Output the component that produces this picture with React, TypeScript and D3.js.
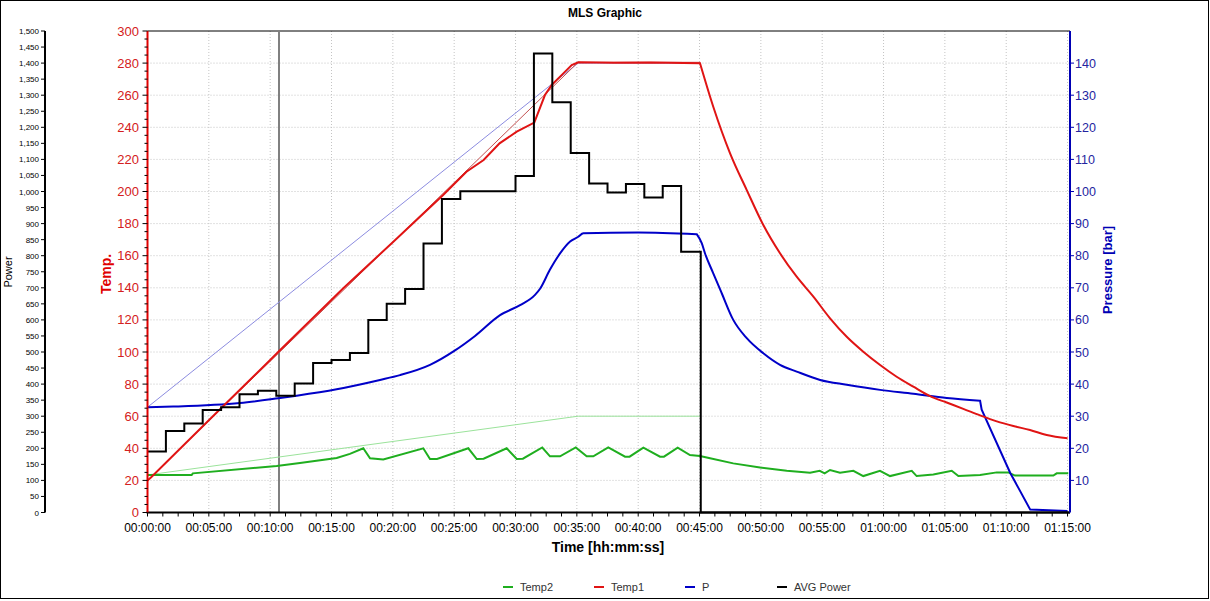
import React from "react";
import * as d3 from "d3";

// ---------- data (minutes, values) ----------
const powerStart = [0, 1.5, 3, 4.5, 6, 7.5, 9, 10.5, 12, 13.5, 15, 16.5, 18, 19.5, 21, 22.5, 24, 25.5, 27, 28.5, 30, 31.5, 33, 34.5, 36, 37.5, 39, 40.5, 42, 43.5, 45.1, 75.2];
const powerValue = [190, 254, 277, 319, 328, 368, 379, 364, 402, 466, 475, 497, 600, 650, 696, 838, 977, 1001, 1001, 1001, 1048, 1430, 1278, 1120, 1025, 997, 1023, 981, 1017, 812, 0, 0];

const temp1RiseTime = [0, 0.3, 5, 10, 10.65, 15.96, 20.04, 24.1, 26.0, 27.4, 28.7, 30.1, 31.53, 32.4, 32.95, 33.9, 34.58, 35.12, 38, 41, 45.04];
const temp1RiseValue = [20, 22, 57.5, 95, 100, 139.7, 168.7, 197.8, 212.3, 219.6, 230, 237.3, 242.9, 260.1, 266.4, 273.6, 278.8, 280.5, 280.2, 280.4, 279.9];
const temp1FallTime = [45.04, 46.12, 47.49, 48.85, 50.2, 51.56, 52.92, 54.28, 55.64, 57, 58.35, 59.72, 61.07, 62.43, 63.79, 65.15, 66.5, 67.87, 69.23, 70.58, 71.94, 73.3, 75.0];
const temp1FallValue = [279.9, 252.8, 223.8, 200.9, 179.1, 161.5, 146.9, 134.5, 121, 109.5, 100.2, 91.9, 84.6, 78.4, 72.5, 68.5, 64.6, 60.5, 56.8, 53.9, 51.4, 48.3, 46.2];

const temp2Time = [0, 3.6, 3.7, 10.53, 12.43, 15.42, 16.5, 17.59, 18.14, 19.22, 22.48, 23.03, 23.6, 26.15, 26.84, 27.4, 29.28, 30.1, 30.6, 32.18, 32.81, 33.63, 34.91, 35.8, 36.34, 37.56, 38.93, 39.3, 40.42, 41.78, 42.1, 43.22, 44.22, 45.04, 45.86, 47.75, 49.93, 52.11, 54.01, 54.8, 55.2, 55.64, 56.45, 57.54, 58.35, 59.71, 60.53, 62.3, 62.7, 64.06, 65.56, 66.1, 67.87, 69.23, 70.17, 70.72, 73.84, 74.12, 75.06];
const temp2Value = [23.4, 23.4, 24.4, 29, 30.8, 34, 36.5, 40, 33.8, 33.1, 40, 33.3, 33.3, 40, 33.3, 33.5, 40, 33.3, 33.5, 40.5, 35, 35, 40.5, 35, 35, 40.6, 34.8, 34.8, 40.4, 34.8, 34.8, 40.4, 35.8, 35.2, 33.8, 30.6, 28, 26, 24.8, 26, 24.4, 26.5, 24.8, 26, 22.7, 26, 22.7, 26, 22.7, 23.7, 26, 22.7, 23.3, 25, 25, 23, 23, 24.4, 24.4];

const pressTime = [0, 2.1, 7.54, 10.66, 12.16, 15.42, 18.95, 20.58, 23.03, 25.07, 26.7, 28.74, 30.37, 31.59, 32.0, 32.8, 33.63, 34.45, 35.12, 35.53, 40, 44.77];
const pressValue = [32.8, 33.0, 34.1, 35.6, 36.4, 38.4, 41.3, 42.8, 46, 50.5, 55, 61.5, 64.6, 67.8, 69.7, 75.6, 80.7, 84.4, 85.9, 87, 87.2, 86.7];
const pressFallTime = [44.77, 45.18, 45.45, 46.12, 46.81, 47.75, 48.85, 50.2, 51.56, 52.92, 54.83, 57, 59.72, 62.43, 65.15, 67.87];
const pressFallValue = [86.7, 83.9, 80.7, 74.5, 68.3, 60, 54.3, 49.6, 46, 43.9, 41.3, 39.8, 38.2, 37.0, 35.7, 34.8];
const pressDropTime = [67.87, 68.0, 70.33, 71.96, 75.0];
const pressDropValue = [34.8, 32, 12.3, 0.9, 0.5];

// set-point ramps (thin lines)
const rampTime = [0, 35.1, 45.05];
const temp1Ramp = [20, 280.5, 280.5];
const temp2Ramp = [23.4, 60, 60];
const pressRamp = [32.8, 140, 140];

const cursorTime = 10.72;

const timeTickLabels = ["00:00:00", "00:05:00", "00:10:00", "00:15:00", "00:20:00", "00:25:00", "00:30:00", "00:35:00", "00:40:00", "00:45:00", "00:50:00", "00:55:00", "01:00:00", "01:05:00", "01:10:00", "01:15:00"];

const legendItems = [
  { label: "Temp2", color: "#1fae1f" },
  { label: "Temp1", color: "#e01414" },
  { label: "P", color: "#0000c8" },
  { label: "AVG Power", color: "#000000" },
];

const FONT = "Arial, 'Liberation Sans', sans-serif";

export default function App() {
  const left = 147.5, right = 1070, top = 31, bottom = 512.5;
  const x = d3.scaleLinear().domain([0, 75.2]).range([left, right]);
  const yT = d3.scaleLinear().domain([0, 300]).range([bottom, top]);
  const yP = d3.scaleLinear().domain([0, 150]).range([bottom, top]);
  const yW = d3.scaleLinear().domain([0, 1500]).range([bottom, top]);

  const mk = (ts: number[], vs: number[], y: d3.ScaleLinear<number, number>, curve: d3.CurveFactory = d3.curveLinear) =>
    d3.line<number>().x((_, i) => x(ts[i])).y((v) => y(v)).curve(curve)(vs) || "";
  const cont = (p: string) => p.replace(/^M/, "L");

  const powerPath = mk(powerStart, powerValue, yW, d3.curveStepAfter);
  const t1Path = mk(temp1RiseTime, temp1RiseValue, yT) + cont(mk(temp1FallTime, temp1FallValue, yT, d3.curveMonotoneX));
  const t2Path = mk(temp2Time, temp2Value, yT);
  const pPath =
    mk(pressTime, pressValue, yP, d3.curveMonotoneX) +
    cont(mk(pressFallTime, pressFallValue, yP, d3.curveMonotoneX)) +
    cont(mk(pressDropTime, pressDropValue, yP));
  const t1R = mk(rampTime, temp1Ramp, yT);
  const t2R = mk(rampTime, temp2Ramp, yT);
  const pR = mk(rampTime, pressRamp, yP);

  const gridT = d3.range(20, 300, 20);
  const gridX = d3.range(5, 76, 5);
  const tempMajor = d3.range(0, 301, 20);
  const tempMinor = d3.range(0, 301, 5).filter((v) => v % 20 !== 0);
  const powerTicks = d3.range(0, 1501, 50);
  const pressTicks = d3.range(10, 141, 10);
  const xMinor = d3.range(0, 75.01, 1.25);
  const fmt = d3.format(",");

  return (
    <div style={{ position: "absolute", left: 0, top: 0 }}>
      <svg width={1210} height={601} style={{ display: "block", fontFamily: FONT }}>
        <rect x={0} y={0} width={1210} height={601} fill="#fff" />
        <rect x={0.5} y={0.5} width={1208} height={598} fill="none" stroke="#000" strokeWidth={1} />
        <text x={605} y={17} textAnchor="middle" fontSize={12} fontWeight="bold">MLS Graphic</text>

        {/* grid */}
        {gridT.map((v) => (
          <line key={"gt" + v} x1={left} x2={right} y1={yT(v)} y2={yT(v)} stroke="#c4c4c4" strokeDasharray="1,2" />
        ))}
        {gridX.map((v) => (
          <line key={"gx" + v} x1={x(v)} x2={x(v)} y1={top} y2={bottom} stroke="#c4c4c4" strokeDasharray="1,2" />
        ))}
        <line x1={left} x2={right} y1={top} y2={top} stroke="#000" strokeWidth={1} />

        {/* cursor */}
        <line x1={x(cursorTime)} x2={x(cursorTime)} y1={top} y2={bottom} stroke="#808080" strokeWidth={2} />

        {/* set-point lines */}
        <path d={t2R} fill="none" stroke="#9be39b" strokeWidth={1} />
        <path d={pR} fill="none" stroke="#8c8ce0" strokeWidth={1} />
        <path d={t1R} fill="none" stroke="#c25050" strokeWidth={1} />

        {/* series */}
        <path d={t2Path} fill="none" stroke="#1fae1f" strokeWidth={2} />
        <path d={pPath} fill="none" stroke="#0000c8" strokeWidth={2} />
        <path d={t1Path} fill="none" stroke="#e01414" strokeWidth={2} />
        <path d={powerPath} fill="none" stroke="#000" strokeWidth={2} />

        {/* x axis */}
        <line x1={left - 1} x2={right} y1={bottom} y2={bottom} stroke="#000" strokeWidth={2} />
        {xMinor.map((v) => (
          <line key={"xm" + v} x1={x(v)} x2={x(v)} y1={bottom} y2={bottom + 4} stroke="#000" />
        ))}
        {timeTickLabels.map((s, i) => (
          <text key={s} x={x(i * 5)} y={532} textAnchor="middle" fontSize={12} fill="#000">{s}</text>
        ))}
        <text x={608} y={552} textAnchor="middle" fontSize={14} fontWeight="bold">Time [hh:mm:ss]</text>

        {/* power axis */}
        <line x1={45} x2={45} y1={top} y2={bottom} stroke="#000" strokeWidth={2} />
        {powerTicks.map((v) => (
          <g key={"pw" + v}>
            <line x1={41} x2={45} y1={yW(v)} y2={yW(v)} stroke="#000" />
            <text x={39} y={yW(v) + 3} textAnchor="end" fontSize={8} fill="#000">{fmt(v)}</text>
          </g>
        ))}
        <text transform={`translate(12,272) rotate(-90)`} textAnchor="middle" fontSize={11}>Power</text>

        {/* temp axis */}
        <line x1={left} x2={left} y1={top} y2={bottom} stroke="#e00000" strokeWidth={2} />
        {tempMajor.map((v) => (
          <g key={"tm" + v}>
            <line x1={left - 5} x2={left} y1={yT(v)} y2={yT(v)} stroke="#000" />
            <text x={139} y={yT(v) + 4.5} textAnchor="end" fontSize={13} fill="#d42020">{v}</text>
          </g>
        ))}
        {tempMinor.map((v) => (
          <line key={"tn" + v} x1={left - 3} x2={left} y1={yT(v)} y2={yT(v)} stroke="#000" />
        ))}
        <text transform={`translate(111,274) rotate(-90)`} textAnchor="middle" fontSize={14} fontWeight="bold" fill="#e00000">Temp.</text>

        {/* pressure axis */}
        <line x1={right} x2={right} y1={top} y2={bottom} stroke="#0000b4" strokeWidth={2} />
        {pressTicks.map((v) => (
          <g key={"pr" + v}>
            <line x1={right} x2={right + 4} y1={yP(v)} y2={yP(v)} stroke="#0000b4" />
            <text x={1075} y={yP(v) + 4.5} fontSize={12.5} fill="#2424a0">{v}</text>
          </g>
        ))}
        <text transform={`translate(1112,270) rotate(-90)`} textAnchor="middle" fontSize={13} fontWeight="bold" fill="#0000b4">Pressure [bar]</text>

        {/* legend */}
        {legendItems.map((it, i) => {
          const lx = [503, 594, 685, 777][i];
          return (
            <g key={it.label}>
              <line x1={lx} x2={lx + 10} y1={587} y2={587} stroke={it.color} strokeWidth={2} />
              <text x={lx + 17} y={591} fontSize={11} fill="#333">{it.label}</text>
            </g>
          );
        })}
      </svg>
    </div>
  );
}
